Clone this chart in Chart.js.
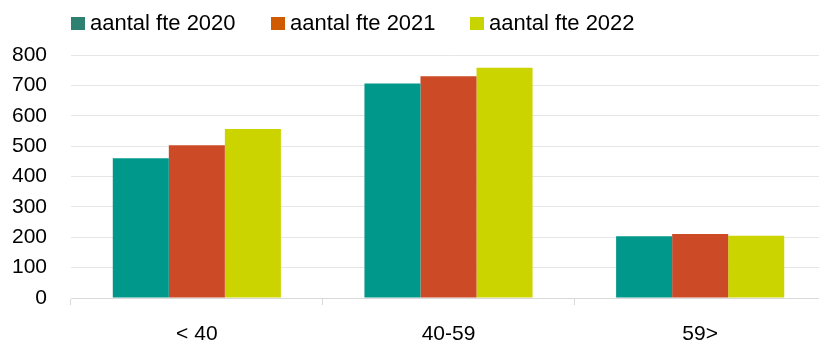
<!DOCTYPE html>
<html>
<head>
<meta charset="utf-8">
<script src="https://cdn.jsdelivr.net/npm/chart.js@4.4.1/dist/chart.umd.min.js"></script>
<style>
    body { margin: 0; background: #fff; overflow: hidden; }
    #wrap { position: relative; width: 819px; height: 340px; overflow: hidden; }
    #legend { position: absolute; left: 0; top: 0; font-family: 'Liberation Sans', Arial, sans-serif; font-size: 22px; color: #000; }
    .item { position: absolute; top: 10px; display: flex; align-items: center; white-space: nowrap; }
    .box { width: 14px; height: 13px; margin-right: 5px; }
</style>
</head>
<body>
<div id="wrap">
    <canvas id="chart" width="826" height="340"></canvas>
    <div id="legend"></div>
</div>
<script>
// ===== 数据 =====
const categories = ['< 40', '40-59', '59>'];
const seriesLabels = ['aantal fte 2020', 'aantal fte 2021', 'aantal fte 2022'];
const fte2020 = [460, 706, 203];
const fte2021 = [503, 730, 211];
const fte2022 = [556, 758, 205];
const yMax = 800;
const yStep = 100;

const barColors = ['#00988a', '#cc4a26', '#ccd400'];
const legendColors = ['#2e8070', '#d05a00', '#c8d400'];
const legendLeft = [71, 271, 470];

// HTML 图例
document.getElementById('legend').innerHTML = seriesLabels.map((l, i) => `
    <div class="item" style="left:${legendLeft[i]}px">
        <span class="box" style="background:${legendColors[i]}"></span><span>${l}</span>
    </div>
`).join('');

const fontFamily = "'Liberation Sans', Arial, sans-serif";
const axisColor = '#d9d9d9';
const gridColor = '#e6e6e6';

new Chart(document.getElementById('chart'), {
    type: 'bar',
    data: {
        labels: categories,
        datasets: [fte2020, fte2021, fte2022].map((d, i) => ({
            label: seriesLabels[i],
            data: d,
            backgroundColor: barColors[i],
            borderWidth: 0,
            categoryPercentage: 0.668,
            barPercentage: 1
        }))
    },
    options: {
        responsive: false,
        animation: false,
        layout: { padding: { top: 55, left: 0, right: 0, bottom: 0 } },
        plugins: {
            legend: { display: false },
            tooltip: { enabled: false }
        },
        scales: {
            x: {
                afterFit: s => { s.height = 42; },
                border: { display: true, color: axisColor, width: 1 },
                grid: { display: true, drawOnChartArea: false, drawTicks: true, tickLength: 7, color: axisColor },
                ticks: { color: '#000', padding: 17, font: { family: fontFamily, size: 21 } }
            },
            y: {
                min: 0,
                max: yMax,
                afterFit: s => { s.width = 71; },
                border: { display: false },
                grid: { color: gridColor, lineWidth: 1, drawTicks: false },
                ticks: { stepSize: yStep, color: '#000', padding: 24, font: { family: fontFamily, size: 21 } }
            }
        }
    }
});
</script>
</body>
</html>
